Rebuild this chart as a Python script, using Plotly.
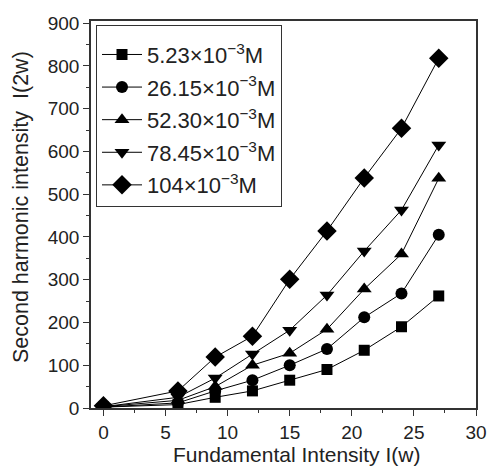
import plotly.graph_objects as go

x_vals = [0, 6, 9, 12, 15, 18, 21, 24, 27]

conc_labels = [
    "5.23×10<sup>−3</sup>M",
    "26.15×10<sup>−3</sup>M",
    "52.30×10<sup>−3</sup>M",
    "78.45×10<sup>−3</sup>M",
    "104×10<sup>−3</sup>M",
]

s_5_23 = [2, 8, 25, 40, 65, 90, 135, 190, 262]
s_26_15 = [2, 12, 40, 65, 100, 138, 212, 268, 405]
s_52_30 = [3, 18, 50, 100, 128, 184, 278, 360, 537]
s_78_45 = [3, 25, 70, 126, 182, 264, 367, 463, 615]
s_104 = [5, 40, 119, 168, 301, 414, 538, 654, 818]

x_title = "Fundamental Intensity I(w)"
y_title = "Second harmonic intensity  I(2w)"

series = [s_5_23, s_26_15, s_52_30, s_78_45, s_104]
symbols = ["square", "circle", "triangle-up", "triangle-down", "diamond"]
sizes = [11, 12, 13, 13, 15]

fig = go.Figure()
for lab, ys, sym, sz in zip(conc_labels, series, symbols, sizes):
    fig.add_trace(go.Scatter(
        x=x_vals, y=ys, name=lab, mode="lines+markers",
        line=dict(color="black", width=1),
        marker=dict(symbol=sym, size=sz, color="black"),
        legendgroup=lab,
    ))

font = "Liberation Sans, Arial, sans-serif"
fig.update_layout(
    width=490, height=468,
    margin=dict(l=91, r=14, t=21, b=60),
    paper_bgcolor="white", plot_bgcolor="white",
    font=dict(family=font, size=19, color="#222"),
    showlegend=True,
    legend=dict(
        x=0.013, y=0.99, xanchor="left", yanchor="top",
        bordercolor="#333", borderwidth=1, bgcolor="white",
        font=dict(size=22), tracegroupgap=1, itemwidth=40,
        title=dict(text=" ", font=dict(size=6)),
    ),
    xaxis=dict(
        range=[-1, 30], tickvals=[0, 5, 10, 15, 20, 25, 30],
        ticks="outside", ticklen=6, tickwidth=1, tickcolor="#333",
        minor=dict(dtick=2.5, ticks="outside", ticklen=3, tickcolor="#333"),
        showline=True, linecolor="#333", linewidth=1.5, mirror=True,
        showgrid=False, zeroline=False, automargin=False,
    ),
    yaxis=dict(
        range=[0, 905], tickvals=list(range(0, 901, 100)),
        ticks="outside", ticklen=6, tickwidth=1, tickcolor="#333",
        minor=dict(dtick=50, ticks="outside", ticklen=3, tickcolor="#333"),
        showline=True, linecolor="#333", linewidth=1.5, mirror=True,
        showgrid=False, zeroline=False, automargin=False,
    ),
    annotations=[
        dict(text=x_title, xref="paper", yref="paper", x=0.534, y=-0.121,
             xanchor="center", yanchor="middle", showarrow=False,
             font=dict(size=21)),
        dict(text=y_title, xref="paper", yref="paper", x=-0.182, y=0.519,
             xanchor="center", yanchor="middle", showarrow=False,
             textangle=-90, font=dict(size=21.5)),
    ],
)

fig.write_html(
    "out.html",
    config={"displayModeBar": False},
    post_script="document.body.style.margin='0';document.body.style.overflow='hidden';",
)
